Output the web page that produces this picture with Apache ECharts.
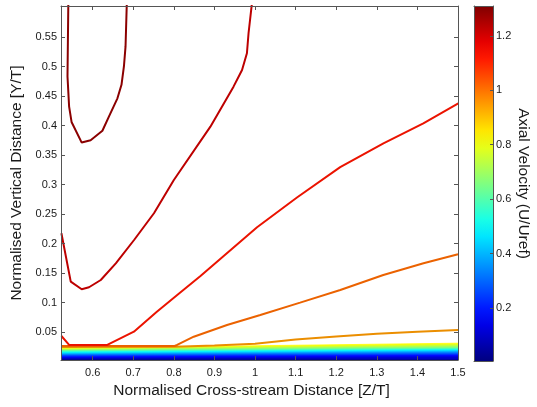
<!DOCTYPE html>
<html>
<head>
<meta charset="utf-8">
<script src="https://cdn.jsdelivr.net/npm/echarts@6/dist/echarts.min.js"></script>
<style>html,body{margin:0;padding:0;background:#fff}#c{width:537px;height:407px}</style>
</head>
<body>
<div id="c"></div>
<script>
// ---- data ----
const xTicks = [0.6, 0.7, 0.8, 0.9, 1, 1.1, 1.2, 1.3, 1.4, 1.5];
const yTicks = [0.05, 0.1, 0.15, 0.2, 0.25, 0.3, 0.35, 0.4, 0.45, 0.5, 0.55];
const cbTicks = [0.2, 0.4, 0.6, 0.8, 1, 1.2];

const contourLevels = [1.28, 1.21, 1.12, 1.01, 0.95];
const contourA = [[0.540,0.605],[0.538,0.483],[0.542,0.432],[0.548,0.406],[0.573,0.371],[0.595,0.375],[0.624,0.391],[0.640,0.415],[0.661,0.446],[0.671,0.469],[0.677,0.500],[0.681,0.534],[0.684,0.605]];
const contourB = [[0.523,0.2173],[0.546,0.1353],[0.573,0.1224],[0.591,0.1258],[0.620,0.1381],[0.657,0.1664],[0.702,0.2059],[0.751,0.2512],[0.800,0.3076],[0.890,0.3980],[0.947,0.4658],[0.968,0.4941],[0.980,0.5224],[0.984,0.5563],[0.992,0.605]];
const contourC = [[0.523,0.0432],[0.542,0.028],[0.636,0.028],[0.7016,0.0505],[0.7574,0.0839],[0.8083,0.1127],[0.8656,0.1449],[0.9228,0.1788],[1.005,0.2275],[1.1033,0.2780],[1.2098,0.3295],[1.3163,0.3698],[1.4146,0.4037],[1.5007,0.4376]];
const contourD = [[0.522,0.0263],[0.802,0.0263],[0.808,0.028],[0.849,0.042],[0.931,0.0619],[1.013,0.0788],[1.111,0.0997],[1.210,0.1212],[1.316,0.1466],[1.415,0.1664],[1.5,0.1817]];
const contourE = [[0.522,0.0245],[0.8,0.025],[0.9,0.027],[1.0,0.030],[1.1,0.0372],[1.2,0.0425],[1.3,0.0468],[1.4,0.0505],[1.5,0.0535]];

// near-wall band of closely packed contours (level, height at left edge, height at right edge)
const bandLevels = [0.05,0.1,0.15,0.2,0.25,0.3,0.35,0.4,0.45,0.5,0.55,0.6,0.65,0.7,0.75,0.8,0.85];
const bandLeft  = [0.003,0.0045,0.006,0.0075,0.009,0.0102,0.0114,0.0126,0.0138,0.015,0.0161,0.0172,0.0183,0.0193,0.0203,0.0213,0.0225];
const bandRight = [0.0035,0.0058,0.008,0.0102,0.0119,0.0136,0.0153,0.0167,0.0181,0.0195,0.0206,0.0217,0.0229,0.0248,0.0268,0.0288,0.031];
const bandX = [0.522, 1.5];

const colorbarMax = [1.31];

// ---- styling helpers ----
const cMin = 0.005, cMax = 1.31;
function jetRGB(t) {
  const c = v => Math.max(0, Math.min(1, v));
  return [c(1.5 - Math.abs(4 * t - 3)), c(1.5 - Math.abs(4 * t - 2)), c(1.5 - Math.abs(4 * t - 1))];
}
function rgbStr(a, f) {
  return 'rgb(' + a.map(v => Math.round(v * 255 * f)).join(',') + ')';
}
const jet = t => rgbStr(jetRGB(t), 1);
const colorOf = (v, f) => rgbStr(jetRGB((v - cMin) / (cMax - cMin)), f || 1);

const FONT = 'Liberation Sans, Arial, Helvetica, sans-serif';
const FRAME = '#555';
const TXT = '#1a1a1a';

const series = [];
// band fills: highest level first, each filled down to the axis bottom
for (let i = bandLevels.length - 1; i >= 0; i--) {
  const col = colorOf(bandLevels[i] - 0.025);
  series.push({
    type: 'line', xAxisIndex: 0, yAxisIndex: 0, z: 2,
    data: [[bandX[0], bandLeft[i]], [bandX[1], bandRight[i]]],
    symbol: 'none', silent: true,
    lineStyle: { width: 0.8, color: col },
    areaStyle: { color: col, opacity: 1, origin: 'start' }
  });
}
const contours = [contourA, contourB, contourC, contourD, contourE];
for (let k = contours.length - 1; k >= 0; k--) {
  series.push({
    type: 'line', xAxisIndex: 0, yAxisIndex: 0, z: 3 + (contours.length - k),
    data: contours[k], symbol: 'none', clip: true, silent: true,
    lineStyle: { width: 2, color: colorOf(contourLevels[k], 0.92) }
  });
}
// colorbar
const stops = [];
for (let i = 0; i <= 20; i++) stops.push({ offset: i / 20, color: jet(i / 20) });
series.push({
  type: 'bar', xAxisIndex: 2, yAxisIndex: 2, data: colorbarMax, barWidth: '100%', silent: true,
  itemStyle: { color: { type: 'linear', x: 0, y: 1, x2: 0, y2: 0, colorStops: stops } }
});

const tickStyle = { show: true, inside: true, length: 4, lineStyle: { color: FRAME, width: 1 } };
const lineStyle = { show: true, onZero: false, lineStyle: { color: FRAME, width: 1 } };
const lbl = { color: TXT, fontSize: 11, fontFamily: FONT };
const nameStyle = { color: TXT, fontSize: 15.5, fontFamily: FONT };

const option = {
  animation: false,
  backgroundColor: '#ffffff',
  grid: [
    { left: 61, top: 6, width: 397, height: 354 },
    { left: 474, top: 6, width: 19, height: 355 }
  ],
  xAxis: [
    { type: 'value', gridIndex: 0, min: 0.522, max: 1.5, position: 'bottom', z: 10,
      axisLine: lineStyle, splitLine: { show: false },
      axisTick: Object.assign({ customValues: xTicks }, tickStyle),
      axisLabel: Object.assign({ customValues: xTicks, margin: 7 }, lbl),
      name: 'Normalised Cross-stream Distance [Z/T]', nameLocation: 'middle', nameGap: 21,
      nameTextStyle: Object.assign({ padding: [0, 16, 0, 0] }, nameStyle) },
    { type: 'value', gridIndex: 0, min: 0.522, max: 1.5, position: 'top', z: 10,
      axisLine: lineStyle, splitLine: { show: false },
      axisTick: Object.assign({ customValues: xTicks }, tickStyle),
      axisLabel: { show: false } },
    { type: 'category', gridIndex: 1, data: ['U'], position: 'bottom', z: 10, boundaryGap: true,
      axisLine: lineStyle, axisTick: { show: false }, axisLabel: { show: false }, splitLine: { show: false } },
    { type: 'category', gridIndex: 1, data: ['U'], position: 'top', z: 10, boundaryGap: true,
      axisLine: lineStyle, axisTick: { show: false }, axisLabel: { show: false }, splitLine: { show: false } }
  ],
  yAxis: [
    { type: 'value', gridIndex: 0, min: 0.0025, max: 0.6025, position: 'left', z: 10,
      axisLine: lineStyle, splitLine: { show: false },
      axisTick: Object.assign({ customValues: yTicks }, tickStyle),
      axisLabel: Object.assign({ customValues: yTicks, margin: 4 }, lbl),
      name: 'Normalised Vertical Distance [Y/T]', nameLocation: 'middle', nameGap: 28, nameRotate: 90,
      nameTextStyle: Object.assign({ padding: [0, 0, 0, 0] }, nameStyle) },
    { type: 'value', gridIndex: 0, min: 0.0025, max: 0.6025, position: 'right', z: 10,
      axisLine: lineStyle, splitLine: { show: false },
      axisTick: Object.assign({ customValues: yTicks }, tickStyle),
      axisLabel: { show: false } },
    { type: 'value', gridIndex: 1, min: cMin, max: cMax, position: 'right', z: 10,
      axisLine: lineStyle, splitLine: { show: false },
      axisTick: Object.assign({ customValues: cbTicks }, tickStyle, { length: 3 }),
      axisLabel: Object.assign({ customValues: cbTicks, margin: 3 }, lbl),
      name: 'Axial Velocity (U/Uref)', nameLocation: 'middle', nameGap: 21, nameRotate: -90, nameTextStyle: nameStyle },
    { type: 'value', gridIndex: 1, min: cMin, max: cMax, position: 'left', z: 10,
      axisLine: lineStyle, splitLine: { show: false }, axisTick: { show: false }, axisLabel: { show: false } }
  ],
  series: series
};
const chart = echarts.init(document.getElementById('c'), null, { renderer: 'canvas' });
chart.setOption(option);
</script>
</body>
</html>
